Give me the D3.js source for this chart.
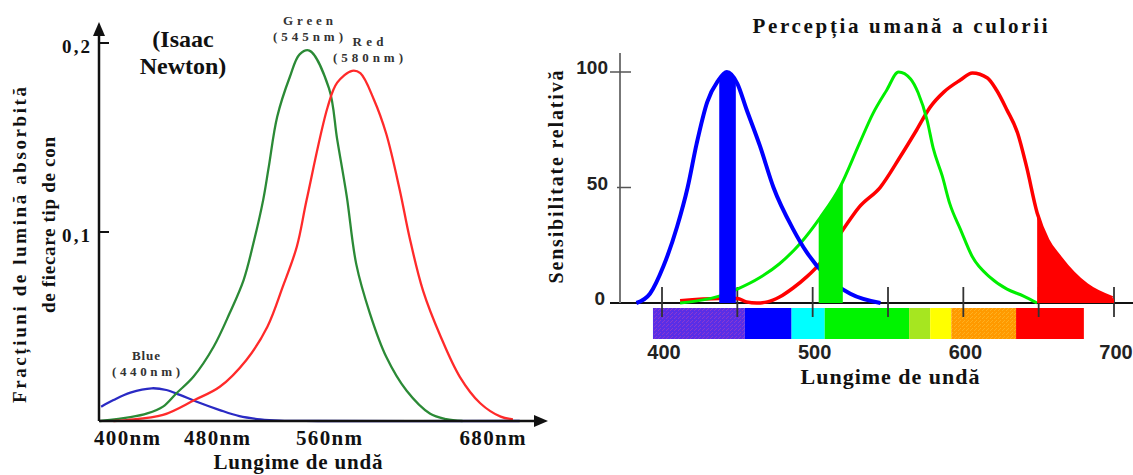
<!DOCTYPE html>
<html>
<head>
<script src="https://cdnjs.cloudflare.com/ajax/libs/d3/7.8.5/d3.min.js"></script>
<style>
    body { margin: 0; background: #fff; }
    svg text { font-family: "Liberation Serif", "Times New Roman", serif; font-weight: bold; fill: #111; }
    svg text.num { font-family: "Liberation Sans", Arial, sans-serif; fill: #222; }
</style>
</head>
<body>
<script>
// ---- left panel: absorption of each cone type ----
var leftTicks = [400, 480, 560, 680];
var leftTickLabels = ['400nm', '480nm', '560nm', '680nm'];
var leftYTicks = [0.1, 0.2];
var leftYLabels = ['0,1', '0,2'];

var lBlueNm  = [377, 388, 403, 422, 435, 447, 462, 482, 496, 511, 525, 552, 700];
var lBlueVal = [0.0076, 0.0111, 0.015, 0.0173, 0.0164, 0.0138, 0.0102, 0.0058, 0.0026, 0.0009, 0.0002, 0, 0];
var lGreenNm  = [376, 403, 418, 432, 444, 459, 477, 489, 499, 506, 513, 517, 523, 532, 539, 546, 560, 566, 573, 580, 590, 602, 617, 634, 646, 658];
var lGreenVal = [0, 0.002, 0.004, 0.0076, 0.0147, 0.0234, 0.0393, 0.057, 0.0746, 0.094, 0.117, 0.1346, 0.161, 0.182, 0.194, 0.196, 0.176, 0.149, 0.119, 0.083, 0.057, 0.034, 0.016, 0.004, 0.001, 0];
var lRedNm  = [388, 400, 432, 460, 482, 501, 516, 527, 537, 544, 559, 566, 577, 583, 593, 602, 612, 619, 629, 642, 656, 671, 686, 695];
var lRedVal = [0, 0.0005, 0.0032, 0.0111, 0.0181, 0.0323, 0.0499, 0.0711, 0.0922, 0.1169, 0.166, 0.179, 0.1853, 0.184, 0.17, 0.152, 0.122, 0.0975, 0.069, 0.0446, 0.0234, 0.0094, 0.0023, 0.0009];

// ---- right panel: relative sensitivity ----
var rightTicks = [400, 450, 500, 550, 600, 650, 700];
var rightTickLabels = [400, 500, 600, 700];
var rightYTicks = [0, 50, 100];

var rBlueNm  = [383, 392, 401, 410, 417, 423, 430, 437, 443, 450, 456, 465, 474, 487, 496, 510, 525, 545];
var rBlueVal = [0, 4, 16, 33, 50, 69, 87, 96, 100, 95, 84, 68, 50, 32, 22, 11, 4, 0];
var rGreenNm  = [412, 438, 450, 465, 478, 492, 505, 518, 531, 540, 549, 557, 565, 570, 576, 580, 586, 591, 598, 606, 618, 629, 640, 649];
var rGreenVal = [0, 3, 6, 11, 17, 26, 37, 50, 69, 82, 92, 100, 97, 91, 79, 67, 55, 43, 32, 20, 11, 6, 3, 0];
var rRedNm  = [412, 438, 450, 456, 463, 470, 478, 487, 496, 505, 520, 531, 545, 558, 569, 578, 587, 598, 606, 616, 622, 629, 636, 642, 649, 656, 664, 673, 682, 699];
var rRedVal = [1, 2, 2, 0.5, 0, 0.5, 2.6, 6.5, 11.3, 17.3, 31.6, 41.6, 50.2, 63.2, 74.9, 84.8, 91.3, 96.5, 99.6, 97.4, 92.2, 83.5, 73.6, 58.9, 39, 27.3, 19.9, 13, 7.8, 2.2];

// highlighted bands under each curve (nm)
var blueBand = [438, 449];
var greenBand = [504, 520];
var redBand = [649, 700];

// spectrum strip
var specStart = [394, 455, 486, 508, 564, 578, 592, 635];
var specEnd   = [455, 486, 508, 564, 578, 592, 635, 680];
var specName  = ['violet', 'blue', 'cyan', 'green', 'yellowgreen', 'yellow', 'orange', 'red'];
var specColor = {violet: 'url(#violetDither)', blue: '#0000ff', cyan: '#00ffff', green: '#00f400',
                 yellowgreen: '#a6e620', yellow: '#ffff00', orange: 'url(#orangeDither)', red: '#ff0000'};

var svg = d3.select('body').append('svg')
    .attr('width', 1133)
    .attr('height', 475);

// dithered fills like the old gif
var defs = svg.append('defs');
function dither(id, base, dot) {
    var p = defs.append('pattern').attr('id', id).attr('patternUnits', 'userSpaceOnUse')
        .attr('width', 4).attr('height', 4);
    p.append('rect').attr('width', 4).attr('height', 4).attr('fill', base);
    p.append('rect').attr('x', 0).attr('y', 0).attr('width', 1).attr('height', 1).attr('fill', dot);
    p.append('rect').attr('x', 2).attr('y', 2).attr('width', 1).attr('height', 1).attr('fill', dot);
    p.append('rect').attr('x', 3).attr('y', 1).attr('width', 1).attr('height', 1).attr('fill', dot);
}
dither('violetDither', '#5a2ee6', '#8a3ad0');
dither('orangeDither', '#ff9a00', '#ffb020');

function pts(nm, val) {
    return nm.map(function(d, i) { return [d, val[i]]; });
}

// ================= left =================
var lx = d3.scaleLinear().domain(leftTicks).range([127, 217, 329, 492.5]);
var ly = d3.scaleLinear().domain([0, 0.2]).range([421, 43]);

var lLine = d3.line()
    .x(function(d) { return lx(d[0]); })
    .y(function(d) { return ly(d[1]); })
    .curve(d3.curveCatmullRom.alpha(0.5));

var left = svg.append('g');

[[lBlueNm, lBlueVal, '#2a2ac4'], [lGreenNm, lGreenVal, '#2b8a36'], [lRedNm, lRedVal, '#ff2a2a']]
    .forEach(function(s) {
        left.append('path')
            .attr('d', lLine(pts(s[0], s[1])))
            .attr('fill', 'none')
            .attr('stroke', s[2])
            .attr('stroke-width', 2.3);
    });

// axes with arrows
var x0 = 99, y0 = ly(0);
left.append('line').attr('x1', x0).attr('y1', y0).attr('x2', x0).attr('y2', 34)
    .attr('stroke', '#111').attr('stroke-width', 2.5);
left.append('path').attr('d', 'M' + x0 + ',22 L' + (x0 - 6) + ',36 L' + (x0 + 6) + ',36 Z').attr('fill', '#111');
left.append('line').attr('x1', x0).attr('y1', y0).attr('x2', 538).attr('y2', y0)
    .attr('stroke', '#111').attr('stroke-width', 2.5);
left.append('path').attr('d', 'M548,' + y0 + ' L534,' + (y0 - 6) + ' L534,' + (y0 + 6) + ' Z').attr('fill', '#111');

leftYTicks.forEach(function(t, i) {
    left.append('line').attr('x1', x0).attr('x2', x0 + 10)
        .attr('y1', ly(t)).attr('y2', ly(t))
        .attr('stroke', '#111').attr('stroke-width', 2);
    left.append('text')
        .attr('x', 90).attr('y', ly(t) + 10)
        .attr('text-anchor', 'end')
        .style('font-size', '19px')
        .attr('textLength', 28)
        .text(leftYLabels[i]);
});

leftTicks.forEach(function(t, i) {
    left.append('text')
        .attr('x', lx(t)).attr('y', 445)
        .attr('text-anchor', 'middle')
        .style('font-size', '21px')
        .attr('textLength', 66)
        .text(leftTickLabels[i]);
});

left.append('text').attr('x', 298).attr('y', 469).attr('text-anchor', 'middle')
    .style('font-size', '21px').attr('textLength', 169).text('Lungime de undă');

left.append('text').attr('transform', 'translate(26,245) rotate(-90)')
    .attr('text-anchor', 'middle').style('font-size', '19px').attr('textLength', 316)
    .text('Fracțiuni de lumină absorbită');
left.append('text').attr('transform', 'translate(55,225) rotate(-90)')
    .attr('text-anchor', 'middle').style('font-size', '19px').attr('textLength', 176)
    .text('de fiecare tip de con');

left.append('text').attr('x', 183).attr('y', 47).attr('text-anchor', 'middle')
    .style('font-size', '24px').text('(Isaac');
left.append('text').attr('x', 183).attr('y', 74).attr('text-anchor', 'middle')
    .style('font-size', '24px').text('Newton)');

var peakLabels = [
    ['Green', '(545nm)', 308, 25, 50, 70],
    ['Red', '(580nm)', 368, 46, 31, 70],
    ['Blue', '(440nm)', 146, 360, 28, 68]
];
peakLabels.forEach(function(p) {
    left.append('text').attr('x', p[2]).attr('y', p[3]).attr('text-anchor', 'middle')
        .style('font-size', '13px').style('fill', '#333').attr('textLength', p[4]).text(p[0]);
    left.append('text').attr('x', p[2]).attr('y', p[3] + 16).attr('text-anchor', 'middle')
        .style('font-size', '13px').style('fill', '#333').attr('textLength', p[5]).text(p[1]);
});

// ================= right =================
var rx = d3.scaleLinear().domain([400, 700]).range([662, 1114]);
var ry = d3.scaleLinear().domain([0, 100]).range([303, 72]);

var right = svg.append('g');

right.selectAll('rect.spec')
    .data(specName)
    .enter().append('rect')
    .attr('class', 'spec')
    .attr('x', function(d, i) { return rx(specStart[i]); })
    .attr('width', function(d, i) { return rx(specEnd[i]) - rx(specStart[i]); })
    .attr('y', 308)
    .attr('height', 31)
    .attr('fill', function(d) { return specColor[d]; });

right.append('line').attr('x1', 610).attr('x2', 1133).attr('y1', ry(0)).attr('y2', ry(0))
    .attr('stroke', '#111').attr('stroke-width', 1.8);
right.append('line').attr('x1', 620).attr('x2', 620).attr('y1', 53).attr('y2', ry(0))
    .attr('stroke', '#777').attr('stroke-width', 2);

rightTicks.forEach(function(t) {
    right.append('line').attr('x1', rx(t)).attr('x2', rx(t)).attr('y1', 287).attr('y2', 317)
        .attr('stroke', '#333').attr('stroke-width', 1.8);
});
rightTickLabels.forEach(function(t) {
    right.append('text').attr('class', 'num').attr('x', rx(t) + 2).attr('y', 359)
        .attr('text-anchor', 'middle').style('font-size', '20px').text(t);
});
rightYTicks.forEach(function(t) {
    if (t > 0) {
        right.append('line').attr('x1', t === 100 ? 610 : 617).attr('x2', 631)
            .attr('y1', ry(t)).attr('y2', ry(t))
            .attr('stroke', '#555').attr('stroke-width', 1.5);
    }
    right.append('text').attr('class', 'num').attr('x', t === 0 ? 605 : 608).attr('y', ry(t) + 2)
        .attr('text-anchor', 'end').style('font-size', '19px').text(t);
});

var rLine = d3.line()
    .x(function(d) { return rx(d[0]); })
    .y(function(d) { return ry(d[1]); })
    .curve(d3.curveMonotoneX);
var rArea = d3.area()
    .x(function(d) { return rx(d[0]); })
    .y0(ry(0))
    .y1(function(d) { return ry(d[1]); })
    .curve(d3.curveMonotoneX);

function band(nm, val, b) {
    var f = d3.scaleLinear().domain(nm).range(val);
    var out = [[b[0], f(b[0])]];
    nm.forEach(function(n, i) { if (n > b[0] && n < b[1]) out.push([n, val[i]]); });
    out.push([b[1], f(b[1])]);
    return out;
}

var rSeries = [
    [rRedNm, rRedVal, '#ff0000', 3.5, redBand],
    [rGreenNm, rGreenVal, '#00ee00', 3, greenBand],
    [rBlueNm, rBlueVal, '#0000ff', 4, blueBand]
];
rSeries.forEach(function(s) {
    right.append('path')
        .attr('d', rLine(pts(s[0], s[1])))
        .attr('fill', 'none')
        .attr('stroke', s[2])
        .attr('stroke-width', s[3])
        .attr('stroke-linejoin', 'round');
});
rSeries.forEach(function(s) {
    right.append('path')
        .attr('d', rArea(band(s[0], s[1], s[4])))
        .attr('fill', s[2]);
});

right.append('text').attr('x', 900).attr('y', 33).attr('text-anchor', 'middle')
    .style('font-size', '21px').attr('textLength', 295).text('Percepția umană a culorii');
right.append('text').attr('transform', 'translate(563,177) rotate(-90)')
    .attr('text-anchor', 'middle').style('font-size', '20px').attr('textLength', 213)
    .text('Sensibilitate relativă');
right.append('text').attr('x', 890).attr('y', 384).attr('text-anchor', 'middle')
    .style('font-size', '22px').attr('textLength', 179).text('Lungime de undă');
</script>
</body>
</html>
